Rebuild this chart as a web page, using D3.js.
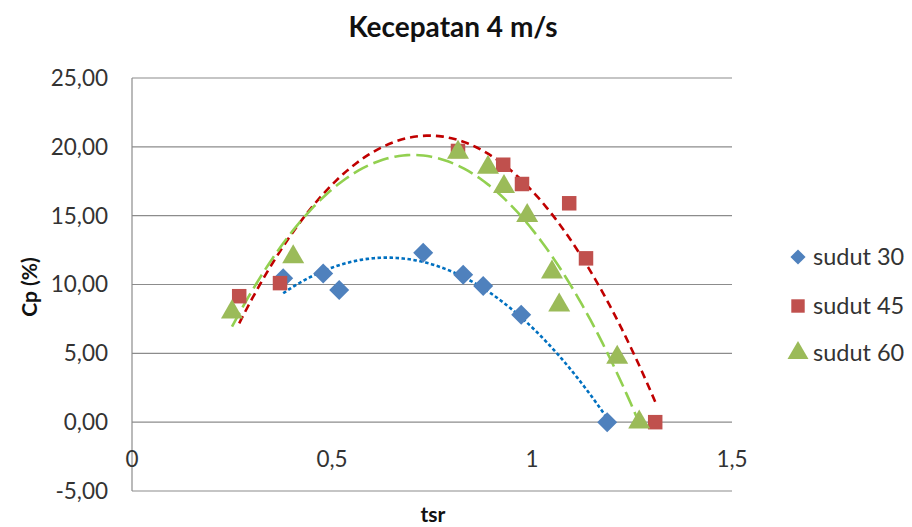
<!DOCTYPE html>
<html>
<head>
<meta charset="utf-8">
<script src="https://cdn.jsdelivr.net/npm/d3@7"></script>
<style>
  html, body { margin: 0; padding: 0; background: #fff; }
  svg { display: block; font-family: Lato, "Open Sans", sans-serif; }
</style>
</head>
<body>
<svg id="chart" width="912" height="527"></svg>
<script>
// ---- data ----
const title = "Kecepatan 4 m/s";
const xTitle = "tsr";
const yTitle = "Cp (%)";
const seriesNames = ["sudut 30", "sudut 45", "sudut 60"];
const tsr30 = [0.378, 0.478, 0.518, 0.728, 0.828, 0.878, 0.973, 1.188];
const cp30  = [10.45, 10.8, 9.6, 12.3, 10.7, 9.9, 7.8, 0.0];
const tsr45 = [0.268, 0.370, 0.815, 0.928, 0.975, 1.093, 1.135, 1.308];
const cp45  = [9.15, 10.1, 19.7, 18.7, 17.3, 15.9, 11.9, 0.0];
const tsr60 = [0.250, 0.403, 0.815, 0.890, 0.930, 0.988, 1.050, 1.068, 1.213, 1.268];
const cp60  = [8.0, 12.0, 19.6, 18.5, 17.1, 15.0, 10.9, 8.5, 4.7, 0.0];
const xTicks = [0, 0.5, 1, 1.5];
const xTickLabels = ["0", "0,5", "1", "1,5"];
const yTicks = [-5, 0, 5, 10, 15, 20, 25];
const yTickLabels = ["-5,00", "0,00", "5,00", "10,00", "15,00", "20,00", "25,00"];

// ---- layout ----
const svg = d3.select("#chart");
const x = d3.scaleLinear().domain([0, 1.5]).range([132, 732]);
const y = d3.scaleLinear().domain([-5, 25]).range([491, 78]);

const styles = [
  { fill: "#4F81BD", shape: d3.symbolSquare, rot: 45, trend: "#0070C0", dash: "3.5,2.5", width: 2.6 },
  { fill: "#C0504D", shape: d3.symbolSquare, rot: 0, trend: "#C00000", dash: "8,5", width: 2.6 },
  { fill: "#9BBB59", shape: d3.symbolTriangle, rot: 0, trend: "#92D050", dash: "16,6", width: 2.6 }
];
const series = [
  { name: seriesNames[0], xs: tsr30, ys: cp30 },
  { name: seriesNames[1], xs: tsr45, ys: cp45 },
  { name: seriesNames[2], xs: tsr60, ys: cp60 }
];

// polynomial least squares fit (trendline, as in the spreadsheet)
function polyfit(xs, ys, deg) {
  const n = deg + 1;
  const A = Array.from({ length: n }, () => new Array(n + 1).fill(0));
  for (let k = 0; k < xs.length; k++) {
    for (let i = 0; i < n; i++) {
      for (let j = 0; j < n; j++) A[i][j] += Math.pow(xs[k], i + j);
      A[i][n] += ys[k] * Math.pow(xs[k], i);
    }
  }
  for (let i = 0; i < n; i++) {
    let p = i;
    for (let r = i + 1; r < n; r++) if (Math.abs(A[r][i]) > Math.abs(A[p][i])) p = r;
    [A[i], A[p]] = [A[p], A[i]];
    for (let r = 0; r < n; r++) {
      if (r === i) continue;
      const f = A[r][i] / A[i][i];
      for (let c = i; c <= n; c++) A[r][c] -= f * A[i][c];
    }
  }
  return A.map((row, i) => row[n] / row[i]);
}

// gridlines
svg.append("g").selectAll("line").data(yTicks.filter(d => d !== -5)).join("line")
  .attr("x1", x(0)).attr("x2", x(1.5))
  .attr("y1", d => y(d)).attr("y2", d => y(d))
  .attr("stroke", "#8C8C8C").attr("stroke-width", 1.2);

// axes lines
svg.append("line").attr("x1", x(0)).attr("x2", x(0)).attr("y1", y(25)).attr("y2", y(-5))
  .attr("stroke", "#8C8C8C").attr("stroke-width", 1.2);
svg.append("line").attr("x1", x(0)).attr("x2", x(1.5)).attr("y1", y(-5)).attr("y2", y(-5))
  .attr("stroke", "#8C8C8C").attr("stroke-width", 1.2);

// y tick labels
svg.append("g").selectAll("text").data(yTicks).join("text")
  .attr("x", 108).attr("y", d => y(d)).attr("dy", "0.35em")
  .attr("text-anchor", "end").attr("font-size", 22.5).attr("fill", "#333")
  .text((d, i) => yTickLabels[i]);

// x tick labels
svg.append("g").selectAll("text").data(xTicks).join("text")
  .attr("x", d => x(d)).attr("y", 467)
  .attr("text-anchor", "middle").attr("font-size", 22.5).attr("fill", "#333")
  .text((d, i) => xTickLabels[i]);

// trendlines
series.forEach((s, i) => {
  const c = polyfit(s.xs, s.ys, 2);
  const [lo, hi] = d3.extent(s.xs);
  const pts = d3.range(0, 101).map(k => {
    const t = lo + (hi - lo) * k / 100;
    return [t, c[0] + c[1] * t + c[2] * t * t];
  });
  svg.append("path").datum(pts)
    .attr("d", d3.line().x(d => x(d[0])).y(d => y(d[1])))
    .attr("fill", "none").attr("stroke", styles[i].trend)
    .attr("stroke-width", styles[i].width).attr("stroke-dasharray", styles[i].dash);
});

// markers
const sizes = [200, 210, 210];
series.forEach((s, i) => {
  svg.append("g").selectAll("path").data(s.xs.map((t, k) => [t, s.ys[k]])).join("path")
    .attr("transform", d => `translate(${x(d[0])},${y(d[1])}) rotate(${styles[i].rot})`)
    .attr("d", d3.symbol().type(styles[i].shape).size(sizes[i]))
    .attr("fill", styles[i].fill);
});

// legend
const legY = [257, 306, 353];
const legSizes = [115, 180, 190];
series.forEach((s, i) => {
  svg.append("path").attr("transform", `translate(798,${legY[i]}) rotate(${styles[i].rot})`)
    .attr("d", d3.symbol().type(styles[i].shape).size(legSizes[i]))
    .attr("fill", styles[i].fill);
  svg.append("text").attr("x", 813).attr("y", legY[i]).attr("dy", "0.35em")
    .attr("font-size", 23.5).attr("fill", "#333").text(s.name);
});

// titles
svg.append("text").attr("x", 453).attr("y", 37).attr("text-anchor", "middle")
  .attr("font-size", 28).attr("font-weight", "bold").attr("fill", "#111").text(title);
svg.append("text").attr("x", 433).attr("y", 522).attr("text-anchor", "middle")
  .attr("font-size", 21).attr("font-weight", "bold").attr("fill", "#111").text(xTitle);
svg.append("text").attr("transform", "translate(37,287) rotate(-90)").attr("text-anchor", "middle")
  .attr("font-size", 21).attr("font-weight", "bold").attr("fill", "#111").text(yTitle);
</script>
</body>
</html>
